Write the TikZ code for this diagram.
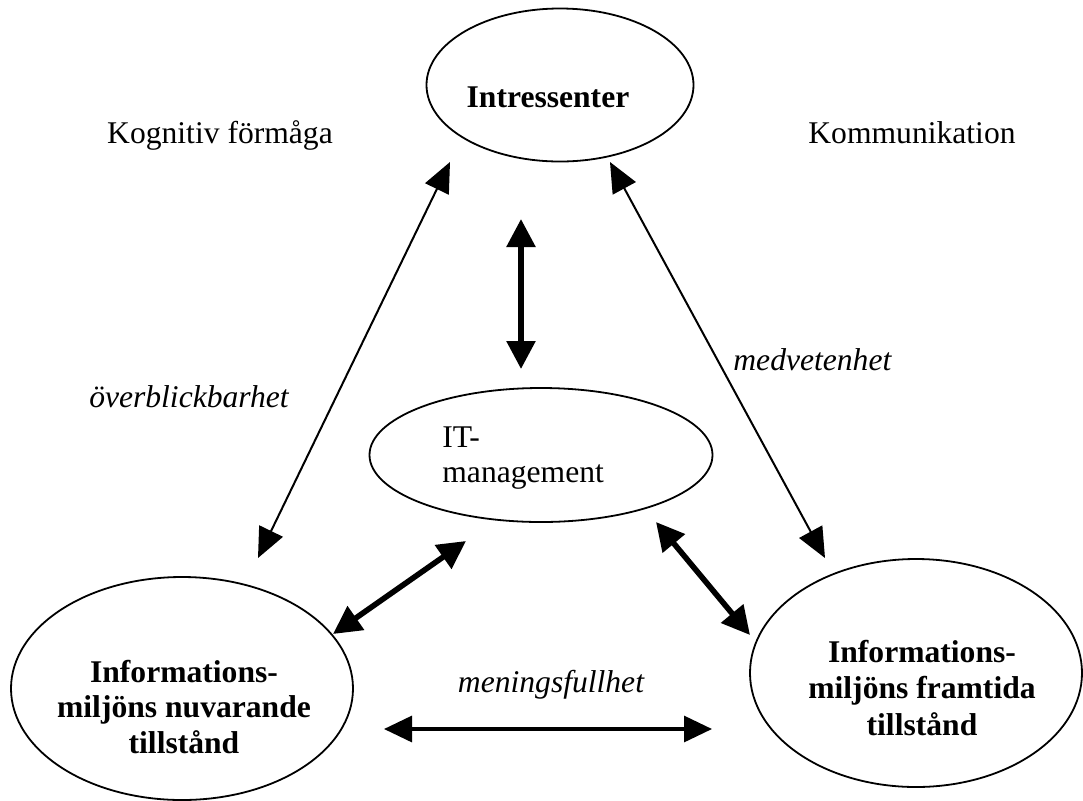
\documentclass[tikz,border=0pt]{standalone}
\usepackage{fontspec}
\setmainfont{Liberation Serif}
\usetikzlibrary{shapes.geometric,arrows.meta}
\begin{document}
\begin{tikzpicture}[x=0.5pt,y=-0.5pt,
  every node/.style={font=\fontsize{15.8}{18}\selectfont},
  oval/.style={draw,ellipse,line width=0.9pt,inner sep=0pt},
  word/.style={anchor=base,inner sep=0pt},
  thinlink/.style={line width=1pt,{Triangle[length=15pt,width=13pt]}-{Triangle[length=15pt,width=13pt]}},
  thicklink/.style={line width=2.8pt,{Triangle[length=14pt,width=14pt]}-{Triangle[length=14pt,width=14pt]}},
  flatlink/.style={line width=1.6pt,{Triangle[length=14pt,width=13pt]}-{Triangle[length=14pt,width=13pt]}}]
\useasboundingbox (0,0) rectangle (1083,800);

% ellipses
\node[oval,minimum width=133.5pt,minimum height=76.5pt] (top) at (560,85) {};
\node[oval,minimum width=171.5pt,minimum height=67pt] (it) at (541,455) {};
\node[oval,minimum width=171pt,minimum height=111.5pt] (cur) at (182,688.5) {};
\node[oval,minimum width=166pt,minimum height=114pt] (fut) at (916,673) {};

% texts inside the ellipses
\node[word] (topT) at (548,107) {\bfseries Intressenter};
\node[word,anchor=base west] (itA) at (442,447) {IT-};
\node[word,anchor=base west] (itB) at (442,482) {management};
\node[word] (curA) at (184,682) {\bfseries Informations-};
\node[word] (curB) at (184,717) {\bfseries miljöns nuvarande};
\node[word] (curC) at (184,753) {\bfseries tillstånd};
\node[word] (futA) at (922,662) {\bfseries Informations-};
\node[word] (futB) at (922,698) {\bfseries miljöns framtida};
\node[word] (futC) at (922,735) {\bfseries tillstånd};

% free labels
\node[word] (kog) at (220,143) {Kognitiv förmåga};
\node[word] (kom) at (912,143) {Kommunikation};
\node[word] (over) at (189,407) {\itshape överblickbarhet};
\node[word,anchor=base west] (medv) at (733,370) {\itshape medvetenhet};
\node[word] (men) at (551,692) {\itshape meningsfullhet};

% arrow end points
\coordinate (lA) at (258,558);
\coordinate (lB) at (450,162);
\coordinate (rA) at (610,162);
\coordinate (rB) at (825,558);
\coordinate (vA) at (521,219);
\coordinate (vB) at (521,369);
\coordinate (dA) at (333,634);
\coordinate (dB) at (466,541);
\coordinate (eA) at (656,522);
\coordinate (eB) at (750,635);
\coordinate (hA) at (384,729);
\coordinate (hB) at (712,729);

% connectors
\draw[thinlink] (lA) -- (lB);
\draw[thinlink] (rA) -- (rB);
\draw[thicklink] (vA) -- (vB);
\draw[thicklink] (dA) -- (dB);
\draw[thicklink] (eA) -- (eB);
\draw[flatlink] (hA) -- (hB);
\end{tikzpicture}
\end{document}
